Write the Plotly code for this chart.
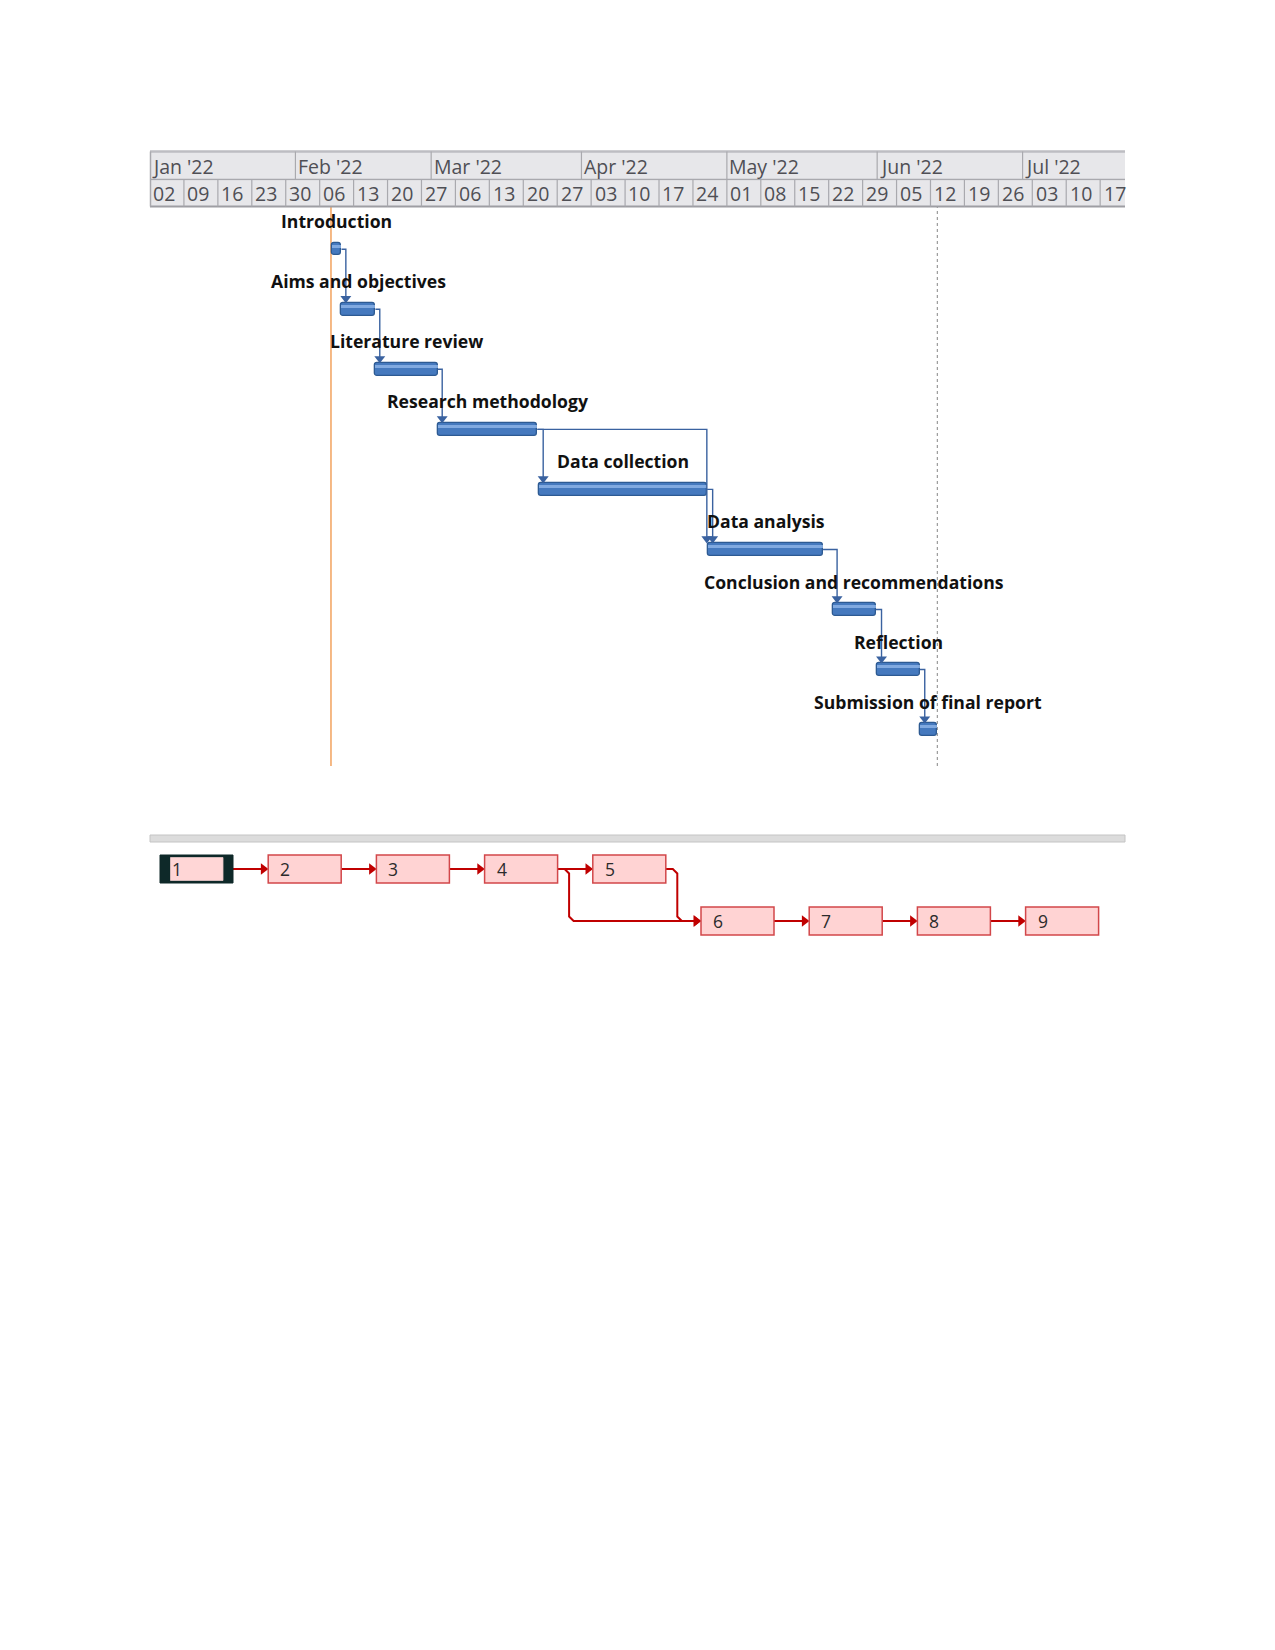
import plotly.graph_objects as go
import pandas as pd

# ---------------- data ----------------
task_ids = [1, 2, 3, 4, 5, 6, 7, 8, 9]
task_names = ["Introduction", "Aims and objectives", "Literature review",
              "Research methodology", "Data collection", "Data analysis",
              "Conclusion and recommendations", "Reflection",
              "Submission of final report"]
task_start = ["2022-02-08 12:00", "2022-02-10 12:00", "2022-02-17 12:00",
              "2022-03-02 09:00", "2022-03-23 05:00", "2022-04-27 04:00",
              "2022-05-22 20:00", "2022-06-01 00:00", "2022-06-09 22:00"]
task_finish = ["2022-02-10 12:00", "2022-02-17 12:00", "2022-03-02 09:00",
               "2022-03-22 22:00", "2022-04-26 22:00", "2022-05-20 20:00",
               "2022-05-31 16:00", "2022-06-09 18:00", "2022-06-13 06:00"]
predecessors = [[], [1], [2], [3], [4], [4, 5], [6], [7], [8]]

month_starts = ["2022-01-01", "2022-02-01", "2022-03-01", "2022-04-01",
                "2022-05-01", "2022-06-01", "2022-07-01"]
month_labels = ["Jan '22", "Feb '22", "Mar '22", "Apr '22", "May '22", "Jun '22", "Jul '22"]
week_labels = ["02", "09", "16", "23", "30", "06", "13", "20", "27", "06", "13", "20",
               "27", "03", "10", "17", "24", "01", "08", "15", "22", "29", "05", "12",
               "19", "26", "03", "10", "17"]
view_start = "2022-01-02"
view_end = "2022-07-22 03:00"
current_date = "2022-02-08 08:00"
status_date = "2022-06-13 10:00"

# ---------------- layout constants ----------------
PAGE_OFF = 8                      # default body margin of the html page
W, H = 1275 - 2 * PAGE_OFF, 1650 - 2 * PAGE_OFF
def px(x):
    return (x - PAGE_OFF) / W
def py(y):
    return 1 - (y - PAGE_OFF) / H

X_LEFT, X_RIGHT = 150, 1125
HDR_TOP, HDR_MID, HDR_BOT = 151.5, 179.5, 206.5
G_TOP, G_BOT = 207, 766
ROW0, ROW_H = 249.2, 60.05
BAR_PX = 12.5
LBL_UP = 28

FMT = "%Y-%m-%d %H:%M:%S"
starts = [pd.Timestamp(s) for s in task_start]
finishes = [pd.Timestamp(s) for s in task_finish]
rows_g = list(range(len(task_ids)))
dur_ms = [(f - s).total_seconds() * 1000 for s, f in zip(starts, finishes)]

fig = go.Figure()

# ---- Gantt bars ----
fig.add_trace(go.Bar(
    orientation="h", y=rows_g, x=dur_ms, base=[s.strftime(FMT) for s in starts],
    width=BAR_PX / ROW_H,
    marker=dict(color="#4579BE", line=dict(color="#2D5A92", width=1.3), cornerradius=3),
    xaxis="x", yaxis="y", hoverinfo="skip"))
fig.add_trace(go.Bar(
    orientation="h", y=rows_g, x=dur_ms, base=[s.strftime(FMT) for s in starts],
    width=3.2 / ROW_H, offset=-4.6 / ROW_H,
    marker=dict(color="#8BB2E6", line=dict(width=0), cornerradius=1),
    xaxis="x", yaxis="y", hoverinfo="skip", opacity=0.85))

# ---- dependency connectors ----
day = pd.Timedelta(days=1)
lx, ly, ax_, ay_ = [], [], [], []
arrow_y_off = (BAR_PX / 2 + 4.5) / ROW_H
for si, preds in enumerate(predecessors):
    for k, p in enumerate(preds):
        pi = task_ids.index(p)
        if len(preds) > 1 and k == 0:
            xv = starts[si] - 0.3 * day
        else:
            xv = starts[si] + 0.9 * day
        ya = si - arrow_y_off
        lx += [finishes[pi].strftime(FMT), xv.strftime(FMT), xv.strftime(FMT), None]
        ly += [pi, pi, ya, None]
        ax_.append(xv.strftime(FMT))
        ay_.append(ya)
fig.add_trace(go.Scatter(x=lx, y=ly, mode="lines", line=dict(color="#3A62A0", width=1.4),
                         xaxis="x", yaxis="y", hoverinfo="skip"))
fig.add_trace(go.Scatter(x=ax_, y=ay_, mode="markers",
                         marker=dict(symbol="triangle-down", size=9.5, color="#3A62A0"),
                         xaxis="x", yaxis="y", hoverinfo="skip"))

shapes = []
annotations = []

# ---- task labels ----
for i, name in enumerate(task_names):
    mid = starts[i] + (finishes[i] - starts[i]) / 2
    annotations.append(dict(x=mid.strftime(FMT), y=i - LBL_UP / ROW_H, xref="x", yref="y",
                            text=name, showarrow=False, xanchor="center", yanchor="middle",
                            font=dict(family="Open Sans", size=17.6, color="#111111", weight=700)))

# ---- timescale header ----
hdr_bg = "#E7E7EA"
grid_c = "#A9A9AE"
txt_c = "#4F4F55"
far_end = "2022-08-15"
shapes.append(dict(type="rect", xref="x", yref="paper", x0=view_start, x1=far_end,
                   y0=py(HDR_MID), y1=py(HDR_TOP), fillcolor=hdr_bg, line=dict(width=0), layer="below"))
shapes.append(dict(type="rect", xref="x", yref="paper", x0=view_start, x1=far_end,
                   y0=py(HDR_BOT), y1=py(HDR_MID + 1), fillcolor=hdr_bg, line=dict(width=0), layer="below"))
for yy, c, w in [(HDR_TOP, "#BDBDC2", 2.5), (HDR_MID, grid_c, 1.5), (HDR_BOT, "#9E9EA3", 2)]:
    shapes.append(dict(type="line", xref="paper", yref="paper", x0=px(X_LEFT), x1=px(X_RIGHT),
                       y0=py(yy), y1=py(yy), line=dict(color=c, width=w)))
shapes.append(dict(type="line", xref="paper", yref="paper", x0=px(X_LEFT + 0.5), x1=px(X_LEFT + 0.5),
                   y0=py(HDR_BOT), y1=py(HDR_TOP), line=dict(color=grid_c, width=1.5)))

vs = pd.Timestamp(view_start)
for ms, lab in zip(month_starts, month_labels):
    m = pd.Timestamp(ms)
    if m > vs:
        shapes.append(dict(type="line", xref="x", yref="paper", x0=ms, x1=ms,
                           y0=py(HDR_MID), y1=py(HDR_TOP), line=dict(color=grid_c, width=1.2)))
    xa = max(m, vs) + pd.Timedelta(hours=2)
    annotations.append(dict(x=xa.strftime(FMT), y=py((HDR_TOP + HDR_MID) / 2 + 0.5), xref="x", yref="paper",
                            text=lab, showarrow=False, xanchor="left", yanchor="middle", xshift=0,
                            font=dict(family="Open Sans", size=19.5, color=txt_c)))

week_dates = pd.date_range(view_start, periods=len(week_labels), freq="7D")
for wd, lab in zip(week_dates, week_labels):
    if wd > vs:
        shapes.append(dict(type="line", xref="x", yref="paper", x0=wd.strftime(FMT), x1=wd.strftime(FMT),
                           y0=py(HDR_BOT), y1=py(HDR_MID), line=dict(color=grid_c, width=1.2)))
    annotations.append(dict(x=(wd + pd.Timedelta(hours=2)).strftime(FMT), y=py((HDR_MID + HDR_BOT) / 2 + 0.5),
                            xref="x", yref="paper", text=lab, showarrow=False, xanchor="left",
                            yanchor="middle", xshift=1,
                            font=dict(family="Open Sans", size=19.5, color=txt_c)))

# ---- current date and status lines ----
shapes.append(dict(type="line", xref="x", yref="paper", x0=current_date, x1=current_date,
                   y0=py(G_BOT), y1=py(G_TOP), line=dict(color="#F2A25E", width=1.5), layer="below"))
shapes.append(dict(type="line", xref="x", yref="paper", x0=status_date, x1=status_date,
                   y0=py(G_BOT), y1=py(G_TOP), line=dict(color="#9A9A9A", width=1.2, dash="dot"), layer="below"))

# ---------------- network diagram ----------------
NET_COL_PX, NET_ROW_PX = 108.2, 52
BOX_W_PX, BOX_H_PX = 73, 28
NET_LEFT, NET_ROW0 = 160, 869
N_TOP, N_BOT = 845, 960
WRAP_AT = 5
cols = list(range(len(task_ids)))
nrows = [0 if c < WRAP_AT else 1 for c in cols]
bw = BOX_W_PX / NET_COL_PX
bh = BOX_H_PX / NET_ROW_PX / 2

# splitter bar
shapes.append(dict(type="rect", xref="paper", yref="paper", x0=px(X_LEFT), x1=px(X_RIGHT),
                   y0=py(842), y1=py(835), fillcolor="#DCDCDC", line=dict(color="#C4C4C4", width=1)))

red = "#C00000"
d = 7 / NET_COL_PX
b = 4.5 / NET_COL_PX
br = 4.5 / NET_ROW_PX
nlx, nly, nax, nay = [], [], [], []
for si, preds in enumerate(predecessors):
    for p in preds:
        pi = task_ids.index(p)
        c0, r0, c1, r1 = cols[pi], nrows[pi], cols[si], nrows[si]
        ex = c0 + bw
        tx = c1 - 4.8 / NET_COL_PX
        if r0 == r1:
            xs, ys = [ex, tx], [r0, r0]
        else:
            xs = [ex, ex + d, ex + d + b, ex + d + b, ex + d + 2 * b, tx]
            ys = [r0, r0, r0 + br, r1 - br, r1, r1]
        nlx += xs + [None]
        nly += ys + [None]
        nax.append(tx)
        nay.append(r1)
fig.add_trace(go.Scatter(x=nlx, y=nly, mode="lines", line=dict(color=red, width=2),
                         xaxis="x2", yaxis="y2", hoverinfo="skip"))
fig.add_trace(go.Scatter(x=nax, y=nay, mode="markers",
                         marker=dict(symbol="triangle-right", size=10, color=red),
                         xaxis="x2", yaxis="y2", hoverinfo="skip"))

for i, tid in enumerate(task_ids):
    c, r = cols[i], nrows[i]
    if i == 0:
        shapes.append(dict(type="rect", xref="x2", yref="y2", x0=c, x1=c + bw, y0=r - bh, y1=r + bh,
                           fillcolor="#0E2929", line=dict(color="#0E2929", width=1)))
        shapes.append(dict(type="rect", xref="x2", yref="y2", x0=c + 10.5 / NET_COL_PX,
                           x1=c + bw - 10 / NET_COL_PX, y0=r - bh + 2.5 / NET_ROW_PX,
                           y1=r + bh - 2.5 / NET_ROW_PX,
                           fillcolor="#FFD6D6", line=dict(color="#E8C8C8", width=0.8)))
    else:
        shapes.append(dict(type="rect", xref="x2", yref="y2", x0=c, x1=c + bw, y0=r - bh, y1=r + bh,
                           fillcolor="#FFD3D3", line=dict(color="#D2474A", width=1.5)))
    annotations.append(dict(x=c + 10 / NET_COL_PX, y=r, xref="x2", yref="y2", text=str(tid),
                            showarrow=False, xanchor="left", yanchor="middle",
                            font=dict(family="Open Sans", size=17.5, color="#2B2B2B")))

fig.update_layout(
    width=W, height=H, margin=dict(l=0, r=0, t=0, b=0),
    paper_bgcolor="white", plot_bgcolor="rgba(0,0,0,0)",
    showlegend=False, barmode="overlay", bargap=0,
    xaxis=dict(type="date", range=[view_start, view_end], domain=[px(X_LEFT), px(X_RIGHT)],
               visible=False, anchor="y"),
    yaxis=dict(range=[(G_BOT - ROW0) / ROW_H, (G_TOP - ROW0) / ROW_H],
               domain=[py(G_BOT), py(G_TOP)], visible=False, anchor="x"),
    xaxis2=dict(range=[(X_LEFT - NET_LEFT) / NET_COL_PX, (X_RIGHT - NET_LEFT) / NET_COL_PX],
                domain=[px(X_LEFT), px(X_RIGHT)], visible=False, anchor="y2"),
    yaxis2=dict(range=[(N_BOT - NET_ROW0) / NET_ROW_PX, (N_TOP - NET_ROW0) / NET_ROW_PX],
                domain=[py(N_BOT), py(N_TOP)], visible=False, anchor="x2"),
    shapes=shapes, annotations=annotations,
)

fig.write_html("out.html")
